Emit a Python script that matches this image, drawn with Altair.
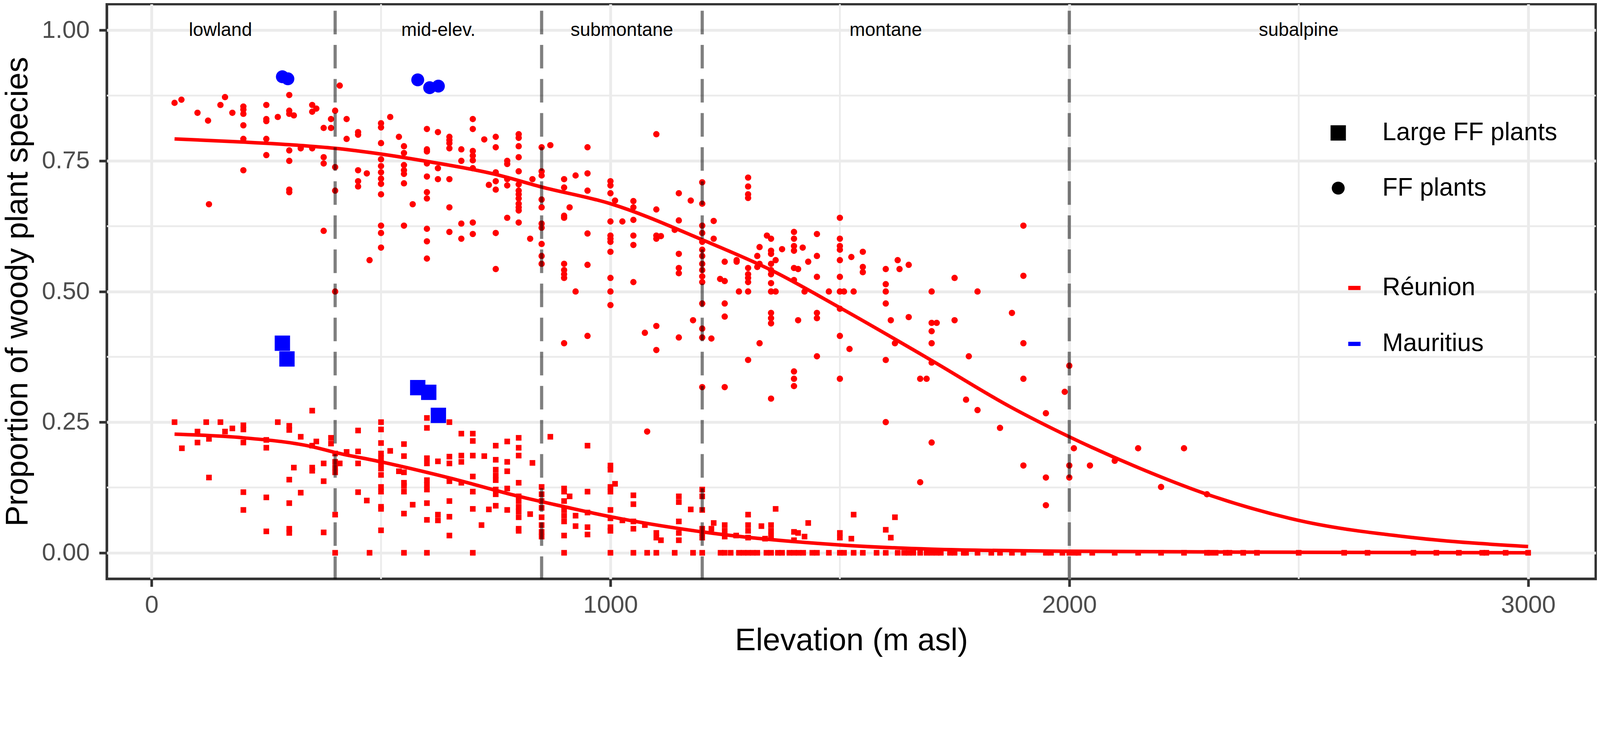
import altair as alt
import pandas as pd

# ---------------- data ----------------
# Réunion, FF plants (small red circles): (elevation, [proportions])
reunion_ff = [
    (50, [0.861]), (65, [0.867]), (100, [0.842]), (123, [0.827]), (125, [0.667]),
    (150, [0.857]), (160, [0.872]), (176, [0.842]),
    (200, [0.854, 0.848, 0.840, 0.818, 0.792, 0.732]),
    (250, [0.857, 0.830, 0.826, 0.792, 0.761]), (275, [0.834]),
    (300, [0.876, 0.846, 0.840, 0.770, 0.750, 0.695, 0.690]),
    (310, [0.837]), (325, [0.774]), (350, [0.857, 0.844, 0.774]), (359, [0.850]),
    (375, [0.813, 0.757, 0.745, 0.616]), (391, [0.830, 0.813]),
    (400, [0.846, 0.738, 0.693, 0.500]), (410, [0.894]), (425, [0.830, 0.792]),
    (450, [0.805, 0.800, 0.732, 0.711, 0.701]), (469, [0.726]), (475, [0.560]),
    (500, [0.822, 0.814, 0.784, 0.753, 0.740, 0.728, 0.716, 0.706, 0.686, 0.626, 0.612, 0.584]),
    (520, [0.834]), (539, [0.796]),
    (550, [0.778, 0.765, 0.742, 0.732, 0.725, 0.707, 0.626]), (569, [0.667]),
    (600, [0.811, 0.772, 0.768, 0.745, 0.720, 0.690, 0.678, 0.620, 0.596, 0.563]),
    (624, [0.805, 0.736, 0.715]),
    (649, [0.796, 0.790, 0.784, 0.774, 0.715, 0.661, 0.614]),
    (675, [0.772, 0.750, 0.630, 0.601]),
    (700, [0.830, 0.811, 0.769, 0.760, 0.751, 0.736, 0.632, 0.610]),
    (725, [0.791]), (735, [0.704]),
    (750, [0.796, 0.776, 0.728, 0.711, 0.695, 0.612, 0.543]),
    (775, [0.750, 0.744, 0.715, 0.703, 0.641]),
    (800, [0.801, 0.794, 0.778, 0.757, 0.730, 0.705, 0.693, 0.686, 0.678, 0.668, 0.661, 0.655, 0.632]),
    (825, [0.601]), (830, [0.715]),
    (850, [0.776, 0.730, 0.722, 0.676, 0.661, 0.630, 0.622, 0.591, 0.568, 0.553]),
    (869, [0.780]),
    (899, [0.715, 0.699, 0.645, 0.641, 0.553, 0.541, 0.533, 0.526, 0.401]),
    (911, [0.661]), (924, [0.722, 0.500]),
    (950, [0.776, 0.726, 0.693, 0.611, 0.551, 0.415]),
    (1000, [0.711, 0.703, 0.688, 0.634, 0.607, 0.601, 0.595, 0.576, 0.526, 0.500, 0.474]),
    (1010, [0.674]), (1026, [0.634]),
    (1050, [0.673, 0.661, 0.637, 0.607, 0.589, 0.518]),
    (1075, [0.421]), (1080, [0.232]),
    (1100, [0.801, 0.657, 0.607, 0.601, 0.434, 0.388]), (1110, [0.606]), (1140, [0.618]),
    (1149, [0.688, 0.636, 0.572, 0.545, 0.535, 0.412]), (1175, [0.674]), (1180, [0.445]),
    (1200, [0.709, 0.668, 0.626, 0.612, 0.595, 0.580, 0.568, 0.553, 0.541, 0.529, 0.518, 0.477, 0.429, 0.412, 0.317]),
    (1220, [0.410]), (1225, [0.635, 0.601]), (1239, [0.524]),
    (1249, [0.557, 0.520, 0.477, 0.452, 0.317]), (1275, [0.560, 0.557]), (1280, [0.500]),
    (1300, [0.718, 0.701, 0.686, 0.679, 0.545, 0.533, 0.526, 0.518, 0.500, 0.369]),
    (1320, [0.568, 0.547]), (1325, [0.585, 0.553, 0.401]), (1341, [0.607]),
    (1350, [0.601, 0.578, 0.572, 0.553, 0.541, 0.533, 0.516, 0.500, 0.459, 0.449, 0.439, 0.295]),
    (1360, [0.560, 0.500]), (1374, [0.581]),
    (1400, [0.614, 0.601, 0.587, 0.578, 0.545, 0.522, 0.347, 0.333, 0.319]),
    (1409, [0.543, 0.445]), (1419, [0.584]), (1423, [0.500]), (1431, [0.557]),
    (1450, [0.610, 0.568, 0.528, 0.459, 0.449, 0.376]), (1476, [0.500]),
    (1500, [0.641, 0.601, 0.587, 0.580, 0.560, 0.528, 0.500, 0.467, 0.415, 0.333]),
    (1509, [0.500]), (1521, [0.390]), (1525, [0.566]), (1530, [0.500]),
    (1550, [0.576, 0.547, 0.537]),
    (1600, [0.543, 0.514, 0.500, 0.477, 0.369, 0.250]),
    (1611, [0.445]), (1620, [0.401]), (1626, [0.560]), (1630, [0.543]),
    (1650, [0.551, 0.451]), (1675, [0.333, 0.135]), (1689, [0.333]),
    (1700, [0.500, 0.440, 0.424, 0.401, 0.364, 0.211]), (1711, [0.440]),
    (1750, [0.526, 0.445]), (1775, [0.293]), (1781, [0.376]), (1800, [0.500, 0.273]),
    (1849, [0.239]), (1875, [0.459]),
    (1900, [0.626, 0.530, 0.401, 0.333, 0.167]), (1949, [0.267, 0.144, 0.091]),
    (1990, [0.308]), (2000, [0.358, 0.167, 0.144]), (2010, [0.200]), (2045, [0.167]),
    (2099, [0.176]), (2150, [0.200]), (2200, [0.126]), (2250, [0.200]), (2300, [0.112]),
]

# Réunion, large FF plants (small red squares)
reunion_large = [
    (50, [0.250]), (66, [0.200]), (100, [0.232, 0.211]), (119, [0.250]),
    (125, [0.218, 0.144]), (150, [0.250]), (160, [0.232]), (176, [0.238]),
    (200, [0.244, 0.236, 0.211, 0.116, 0.082]), (250, [0.216, 0.201, 0.106, 0.041]),
    (275, [0.250]), (300, [0.243, 0.235, 0.140, 0.095, 0.046, 0.038]), (310, [0.163]),
    (325, [0.222, 0.115]), (350, [0.272, 0.205, 0.163, 0.157]), (359, [0.213]),
    (375, [0.171, 0.137, 0.039]), (391, [0.220, 0.209]),
    (400, [0.190, 0.174, 0.163, 0.154, 0.073, 0.0]), (410, [0.171]), (425, [0.193]),
    (450, [0.234, 0.194, 0.171, 0.116]), (469, [0.100]), (475, [0.0]),
    (500, [0.250, 0.236, 0.210, 0.190, 0.181, 0.171, 0.161, 0.149, 0.126, 0.117, 0.088, 0.084, 0.043]),
    (520, [0.195]), (539, [0.156]),
    (550, [0.208, 0.185, 0.154, 0.134, 0.128, 0.117, 0.075, 0.0]), (569, [0.092]),
    (600, [0.258, 0.239, 0.181, 0.171, 0.139, 0.130, 0.121, 0.095, 0.063, 0.0]),
    (624, [0.175, 0.073, 0.062]),
    (649, [0.250, 0.184, 0.171, 0.137, 0.099, 0.069, 0.033]),
    (675, [0.228, 0.186, 0.174, 0.134]),
    (700, [0.228, 0.214, 0.186, 0.146, 0.117, 0.084, 0.0]),
    (719, [0.053]), (725, [0.185]), (735, [0.083]),
    (750, [0.205, 0.178, 0.159, 0.148, 0.139, 0.121, 0.112, 0.090]),
    (775, [0.213, 0.174, 0.156, 0.123, 0.082]),
    (800, [0.220, 0.201, 0.186, 0.134, 0.108, 0.099, 0.088, 0.079, 0.068, 0.046, 0.042]),
    (825, [0.074]), (830, [0.172]),
    (850, [0.126, 0.112, 0.099, 0.086, 0.068, 0.053, 0.040, 0.031]), (869, [0.222]),
    (899, [0.123, 0.117, 0.099, 0.082, 0.071, 0.060, 0.033, 0.0]), (911, [0.108]),
    (924, [0.071, 0.051]), (950, [0.205, 0.117, 0.077, 0.049, 0.035]),
    (1000, [0.167, 0.159, 0.126, 0.117, 0.082, 0.066, 0.049, 0.042, 0.0]),
    (1010, [0.132]), (1026, [0.062]), (1050, [0.110, 0.093, 0.060, 0.046, 0.0]),
    (1075, [0.053]), (1080, [0.0]), (1100, [0.038, 0.029, 0.0]), (1110, [0.024]),
    (1140, [0.0]), (1149, [0.108, 0.097, 0.060, 0.038, 0.024]), (1175, [0.083]),
    (1180, [0.0]), (1200, [0.121, 0.108, 0.082, 0.046, 0.038, 0.029, 0.0]),
    (1220, [0.046]), (1225, [0.057]), (1240, [0.0]), (1249, [0.053, 0.042, 0.031, 0.0]),
    (1262, [0.0]), (1274, [0.033]), (1280, [0.0]), (1290, [0.0]),
    (1300, [0.073, 0.053, 0.042, 0.029, 0.0]), (1310, [0.0]), (1320, [0.0]),
    (1329, [0.051]), (1337, [0.027]), (1340, [0.0]), (1350, [0.053, 0.042, 0.033, 0.0]),
    (1360, [0.084]), (1365, [0.0]), (1374, [0.0]), (1390, [0.0]),
    (1400, [0.040, 0.024, 0.0]), (1409, [0.038]), (1410, [0.0]), (1420, [0.0]),
    (1423, [0.031]), (1431, [0.057]), (1440, [0.0]), (1450, [0.0]), (1476, [0.0]),
    (1500, [0.038, 0.029, 0.0]), (1509, [0.0]), (1525, [0.027]), (1530, [0.073, 0.0]),
    (1550, [0.0]), (1580, [0.0]), (1600, [0.044, 0.0]), (1611, [0.029]), (1620, [0.068]),
    (1626, [0.0]), (1640, [0.0]), (1650, [0.0]), (1660, [0.0]), (1675, [0.0]),
    (1689, [0.0]), (1700, [0.0]), (1711, [0.0]), (1720, [0.0]), (1740, [0.0]),
    (1750, [0.0]), (1770, [0.0]), (1775, [0.0]), (1800, [0.0]), (1830, [0.0]),
    (1849, [0.0]), (1875, [0.0]), (1900, [0.0]), (1949, [0.0]), (1960, [0.0]),
    (1985, [0.0]), (2000, [0.0]), (2012, [0.0]), (2020, [0.0]), (2050, [0.0]),
    (2099, [0.0]), (2150, [0.0]), (2200, [0.0]), (2250, [0.0]), (2300, [0.0]),
    (2307, [0.0]), (2319, [0.0]), (2341, [0.0]), (2349, [0.0]), (2379, [0.0]),
    (2409, [0.0]), (2500, [0.0]), (2599, [0.0]), (2650, [0.0]), (2750, [0.0]),
    (2800, [0.0]), (2849, [0.0]), (2900, [0.0]), (2909, [0.0]), (2951, [0.0]),
    (3000, [0.0]),
]

# Mauritius (large blue symbols)
mauritius_ff_elev = [285, 297, 580, 606, 625]
mauritius_ff_prop = [0.911, 0.907, 0.905, 0.890, 0.893]
mauritius_large_elev = [285, 295, 580, 604, 625]
mauritius_large_prop = [0.401, 0.371, 0.316, 0.307, 0.263]

# fitted curves for Réunion
curve_ff_elev = [50, 200, 300, 400, 500, 600, 750, 850, 1000, 1200, 1350, 1500,
                 1700, 1870, 2000, 2150, 2300, 2500, 2750, 3000]
curve_ff_prop = [0.792, 0.786, 0.781, 0.774, 0.763, 0.749, 0.724, 0.700, 0.668, 0.599,
                 0.541, 0.469, 0.368, 0.280, 0.222, 0.163, 0.112, 0.062, 0.029, 0.012]
curve_large_elev = [50, 200, 350, 400, 500, 650, 800, 900, 1000, 1200, 1500, 1700,
                    2000, 2500, 3000]
curve_large_prop = [0.227, 0.220, 0.203, 0.192, 0.174, 0.143, 0.108, 0.088, 0.069,
                    0.040, 0.015, 0.007, 0.003, 0.001, 0.000]

# zone boundaries and labels
zone_bounds = [400, 850, 1200, 2000]
zone_names = ["lowland", "mid-elev.", "submontane", "montane", "subalpine"]
zone_label_x = [150, 625, 1025, 1600, 2500]

x_ticks = [0, 1000, 2000, 3000]
y_ticks = [0, 0.25, 0.5, 0.75, 1.0]
x_minor = [500, 1500, 2500]
y_minor = [0.125, 0.375, 0.625, 0.875]

# ---------------- build tables ----------------
rows = []
for elev, vals in reunion_ff:
    for v in vals:
        rows.append(dict(elev=elev, prop=v, island="Réunion", type="FF plants"))
for elev, vals in reunion_large:
    for v in vals:
        rows.append(dict(elev=elev, prop=v, island="Réunion", type="Large FF plants"))
red_pts = pd.DataFrame(rows)
blue_pts = pd.DataFrame(
    [dict(elev=e, prop=v, island="Mauritius", type="FF plants") for e, v in zip(mauritius_ff_elev, mauritius_ff_prop)]
    + [dict(elev=e, prop=v, island="Mauritius", type="Large FF plants") for e, v in zip(mauritius_large_elev, mauritius_large_prop)]
)

curves = pd.DataFrame(
    [dict(elev=e, prop=p, island="Réunion", curve="ff") for e, p in zip(curve_ff_elev, curve_ff_prop)]
    + [dict(elev=e, prop=p, island="Réunion", curve="large") for e, p in zip(curve_large_elev, curve_large_prop)]
)
bounds = pd.DataFrame({"elev": zone_bounds})
zones = pd.DataFrame({"elev": zone_label_x, "name": zone_names, "prop": [1.0] * len(zone_names)})
xminor = pd.DataFrame({"elev": x_minor})
yminor = pd.DataFrame({"prop": y_minor})

FONT = "Liberation Sans"
W, H = 4234, 1635

xscale = alt.Scale(domain=[-97.5, 3147.5], nice=False, zero=False)
yscale = alt.Scale(domain=[-0.05, 1.05], nice=False, zero=False)

AX = dict(domain=False, grid=True, gridColor="#EBEBEB", gridWidth=8,
          tickColor="#333333", tickWidth=7.5, tickSize=22,
          labelFont=FONT, labelFontSize=70, labelColor="#4D4D4D",
          titleFont=FONT, titleFontSize=89, titleFontWeight="normal", titleColor="black")
xaxis = alt.Axis(values=x_ticks, format="d", title="Elevation (m asl)",
                 labelPadding=19, titlePadding=22, **AX)
yaxis = alt.Axis(values=y_ticks, format=".2f", title="Proportion of woody plant species",
                 labelPadding=27, titlePadding=22, **AX)

color_scale = alt.Scale(domain=["Réunion", "Mauritius"], range=["#FF0000", "#0000FF"])
shape_scale = alt.Scale(domain=["Large FF plants", "FF plants"], range=["square", "circle"])
size_scale = alt.Scale(domain=["Large FF plants", "FF plants"], range=[1900, 1350])

shape_legend = alt.Legend(
    title=None, orient="none", legendX=3466, legendY=331, direction="vertical",
    padding=0, labelFont=FONT, labelFontSize=71, labelColor="black", labelLimit=3000,
    labelOffset=90, rowPadding=85, symbolFillColor="black",
    symbolStrokeWidth=0,
)
color_legend = alt.Legend(
    title=None, orient="none", legendX=3512, legendY=772, direction="vertical",
    padding=0, labelFont=FONT, labelFontSize=71, labelColor="black", labelLimit=3000,
    labelOffset=44, rowPadding=87, symbolSize=1225,
    symbolType="M-1,-0.34L1,-0.34L1,0.34L-1,0.34Z", symbolStrokeWidth=0,
)

base_x = alt.X("elev:Q", scale=xscale, axis=xaxis)
base_y = alt.Y("prop:Q", scale=yscale, axis=yaxis)

minor_x = alt.Chart(xminor).mark_rule(color="#EBEBEB", strokeWidth=5).encode(
    x=alt.X("elev:Q", scale=xscale, axis=xaxis))
minor_y = alt.Chart(yminor).mark_rule(color="#EBEBEB", strokeWidth=5).encode(
    y=alt.Y("prop:Q", scale=yscale, axis=yaxis))

red_points = alt.Chart(red_pts).mark_point(filled=True, opacity=1, strokeWidth=0).encode(
    x=base_x, y=base_y,
    color=alt.Color("island:N", scale=color_scale, legend=color_legend),
    shape=alt.Shape("type:N", scale=shape_scale, legend=shape_legend),
    size=alt.condition("datum.type === 'FF plants'", alt.value(324), alt.value(256)),
)

blue_points = alt.Chart(blue_pts).mark_point(filled=True, opacity=1, strokeWidth=0).encode(
    x=base_x, y=base_y,
    color=alt.Color("island:N", scale=color_scale, legend=color_legend),
    shape=alt.Shape("type:N", scale=shape_scale, legend=shape_legend),
    size=alt.Size("type:N", scale=size_scale, legend=shape_legend),
)

lines = alt.Chart(curves).mark_line(strokeWidth=10, interpolate="monotone").encode(
    x=base_x, y=base_y, detail="curve:N",
    color=alt.Color("island:N", scale=color_scale, legend=color_legend),
)

vlines = alt.Chart(bounds).mark_rule(color="black", opacity=0.5, strokeWidth=9,
                                     strokeDash=[67, 30], strokeDashOffset=78).encode(
    x=alt.X("elev:Q", scale=xscale, axis=xaxis))

labels = alt.Chart(zones).mark_text(font=FONT, fontSize=53, color="black",
                                    baseline="middle", align="center").encode(
    x=base_x, y=base_y, text="name:N")

chart = alt.layer(minor_x, minor_y, red_points, blue_points, lines, vlines, labels).properties(
    width=W, height=H,
    background="white",
    autosize=alt.AutoSizeParams(type="none"),
    padding={"left": 295, "top": -100, "right": 3, "bottom": 320},
).configure_view(
    stroke="#333333", strokeWidth=7.5, fill="white",
)

chart.save("out.html", embed_options={"renderer": "svg", "actions": False})
